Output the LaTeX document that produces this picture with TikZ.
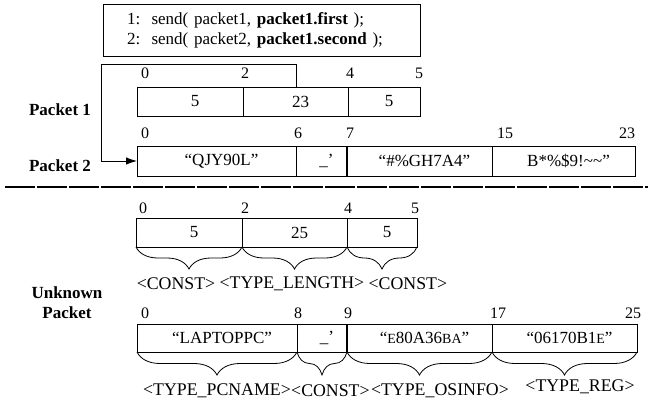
\documentclass[tikz,border=0pt]{standalone}
\usepackage{fontspec}
\setmainfont{Liberation Serif}
\usetikzlibrary{arrows,arrows.meta,positioning,decorations.pathreplacing}

\newcommand{\smc}[1]{{\fontsize{14}{16}\selectfont #1}}

\tikzset{
  every node/.style={font=\fontsize{17}{20}\selectfont},
  cell/.style={draw, line width=0.8pt, inner sep=0pt, outer sep=0pt, minimum height=29pt, anchor=north west, execute at begin node={\hspace*{10pt}}},
  num/.style={inner sep=0pt, font=\fontsize{16}{19}\selectfont},
  lbl/.style={inner sep=0pt, font=\fontsize{17}{20}\selectfont\bfseries},
  tag/.style={inner sep=0pt, font=\fontsize{17.8}{21}\selectfont},
  brace/.style={decorate, decoration={brace, mirror, amplitude=22pt}, line width=0.8pt},
  codebox/.style={draw, line width=0.8pt, text width=269pt, inner xsep=24pt, minimum height=52pt, align=left}
}

\begin{document}
\begin{tikzpicture}[x=1pt, y=-1pt]
    \useasboundingbox (0,0) rectangle (651,402);

    % source lines
    \node[codebox] (code) at (261.5,30) {1:\ \ send( packet1, \textbf{packet1.first} );\\2:\ \ send( packet2, \textbf{packet1.second} );};

    % packet 1
    \node[lbl] (pk1) at (60,110) {Packet 1};
    \node[cell, minimum width=106pt] (p1a) at (137,87) {5};
    \node[cell, minimum width=105pt, right=0pt of p1a] (p1b) {23};
    \node[cell, minimum width=72pt, right=0pt of p1b] (p1c) {5};
    \foreach \v/\x in {0/145,2/245,4/350,5/419}
      \node[num] (p1n\v) at (\x,73) {\v};

    % packet 2
    \node[lbl] (pk2) at (60,166) {Packet 2};
    \node[cell, minimum width=159pt, minimum height=30pt] (p2a) at (137,146) {“QJY90L”};
    \node[cell, minimum width=51pt, minimum height=30pt, right=0pt of p2a] (p2b) {\_’};
    \node[cell, minimum width=145pt, minimum height=30pt, right=0pt of p2b] (p2c) {“\#\%GH7A4”};
    \node[cell, minimum width=143pt, minimum height=30pt, right=0pt of p2c] (p2d) {B*\%\$9!\textasciitilde\textasciitilde”};
    \draw[line width=1.6pt] (p2c.north west) -- (p2c.south west);
    \foreach \v/\x in {0/145,6/298,7/350,15/505,23/627}
      \node[num] (p2n\v) at (\x,133) {\v};

    % packet1.first -> packet 2
    \coordinate (tap) at (296,87);
    \coordinate (bend) at (101,64);
    \draw[-{Latex[length=11pt,width=7.5pt]}, line width=0.9pt] (tap) |- (bend) |- (p2a.west);

    \draw[line width=2.2pt, dash pattern=on 30pt off 2pt] (5,187) -- (648,187);

    % unknown packet
    \node[lbl, align=center] (unk) at (67,303) {Unknown\\Packet};

    \node[cell, minimum width=106pt] (ua) at (136,218) {5};
    \node[cell, minimum width=105pt, right=0pt of ua] (ub) {25};
    \node[cell, minimum width=70pt, right=0pt of ub] (uc) {5};
    \foreach \v/\x in {0/143,2/245,4/348,5/415}
      \node[num] (un\v) at (\x,208) {\v};
    \foreach \c in {ua,ub,uc}
      \draw[brace] (\c.south west) -- (\c.south east);
    \node[tag] (t1) at (176,284) {<CONST>};
    \node[tag, right=4pt of t1] (t2) {<TYPE\_LENGTH>};
    \node[tag, right=4pt of t2] (t3) {<CONST>};

    \node[cell, minimum width=160pt, minimum height=28pt] (va) at (137,324) {“LAPTOPPC”};
    \node[cell, minimum width=50pt, minimum height=28pt, right=0pt of va] (vb) {\_’};
    \node[cell, minimum width=145pt, minimum height=28pt, right=0pt of vb] (vc) {“\smc{E}80A36\smc{BA}”};
    \node[cell, minimum width=145pt, minimum height=28pt, right=0pt of vc] (vd) {“06170B1\smc{E}”};
    \draw[line width=1.6pt] (vc.north west) -- (vc.south west);
    \foreach \v/\x in {0/145,8/298,9/348,17/498,25/633}
      \node[num] (vn\v) at (\x,313) {\v};
    \foreach \c in {va,vb,vc,vd}
      \draw[brace, decoration={amplitude=23pt}] (\c.south west) -- (\c.south east);
    \node[tag] (t4) at (217,391) {<TYPE\_PCNAME>};
    \node[tag, right=0pt of t4] (t5) {<CONST>};
    \node[tag, right=1pt of t5] (t6) {<TYPE\_OSINFO>};
    \node[tag] (t7) at (580,387) {<TYPE\_REG>};
\end{tikzpicture}
\end{document}
